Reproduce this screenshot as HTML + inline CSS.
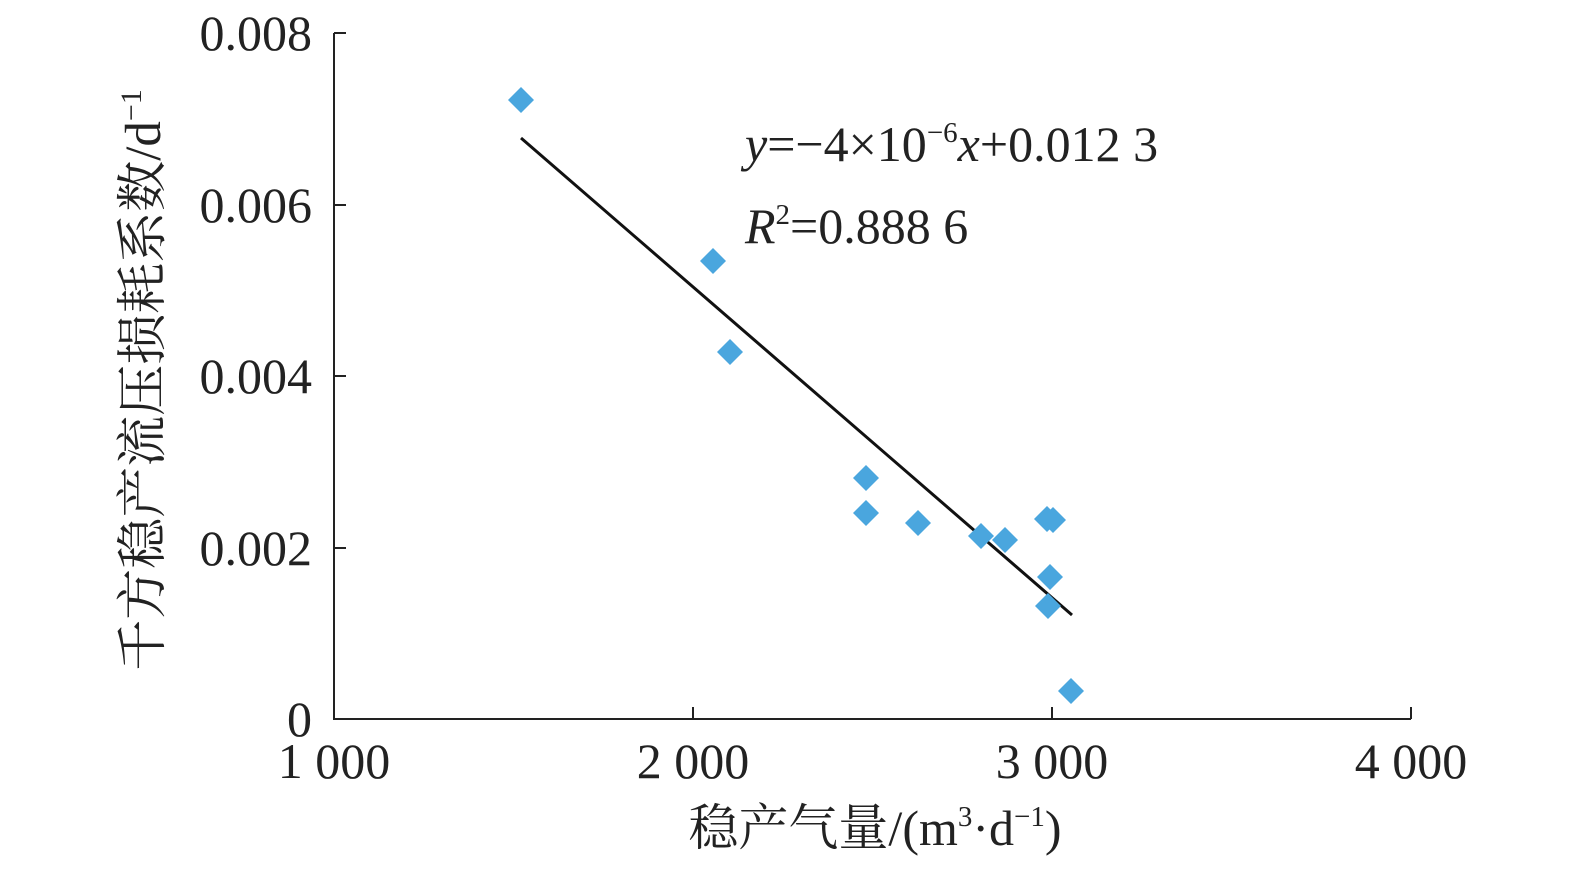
<!DOCTYPE html>
<html><head><meta charset="utf-8"><style>html,body{margin:0;padding:0;background:#fff}</style></head>
<body>
<svg width="1575" height="870" xmlns="http://www.w3.org/2000/svg" font-family="'Liberation Serif','Noto Serif CJK SC',serif" fill="#222">
<g stroke="#222" stroke-width="2">
<line x1="334" y1="33" x2="334" y2="720"/>
<line x1="333" y1="719" x2="1411" y2="719"/>
<line x1="334" y1="33" x2="346" y2="33"/>
<line x1="334" y1="205" x2="346" y2="205"/>
<line x1="334" y1="376" x2="346" y2="376"/>
<line x1="334" y1="548" x2="346" y2="548"/>
<line x1="693" y1="719" x2="693" y2="707"/>
<line x1="1052" y1="719" x2="1052" y2="707"/>
<line x1="1411" y1="719" x2="1411" y2="707"/>
</g>
<g font-size="50" text-anchor="end">
<text x="312" y="50">0.008</text>
<text x="312" y="222">0.006</text>
<text x="312" y="393">0.004</text>
<text x="312" y="565">0.002</text>
<text x="312" y="736">0</text>
</g>
<g font-size="50" text-anchor="middle">
<text x="334" y="778">1 000</text>
<text x="693" y="778">2 000</text>
<text x="1052" y="778">3 000</text>
<text x="1411" y="778">4 000</text>
</g>
<text x="875" y="845" font-size="50" text-anchor="middle">稳产气量/(m<tspan font-size="29" dy="-19">3</tspan><tspan dy="19">·d</tspan><tspan font-size="29" dy="-19">−1</tspan><tspan dy="19">)</tspan></text>
<text transform="translate(160,380) rotate(-90)" font-size="51" text-anchor="middle">千方稳产流压损耗系数/d<tspan font-size="30" dy="-19">−1</tspan></text>
<line x1="521" y1="138" x2="1072" y2="615" stroke="#111" stroke-width="3"/>
<g fill="#4aa6de">
<path d="M521 87l13 13-13 13-13-13z"/>
<path d="M713 248l13 13-13 13-13-13z"/>
<path d="M730 339l13 13-13 13-13-13z"/>
<path d="M866 465l13 13-13 13-13-13z"/>
<path d="M866 500l13 13-13 13-13-13z"/>
<path d="M918 510l13 13-13 13-13-13z"/>
<path d="M981 523l13 13-13 13-13-13z"/>
<path d="M1005 527l13 13-13 13-13-13z"/>
<path d="M1047 506l13 13-13 13-13-13z"/>
<path d="M1053 507l13 13-13 13-13-13z"/>
<path d="M1050 564l13 13-13 13-13-13z"/>
<path d="M1048 593l13 13-13 13-13-13z"/>
<path d="M1071 678l13 13-13 13-13-13z"/>
</g>
<text x="745" y="161" font-size="50"><tspan font-style="italic">y</tspan>=−4×10<tspan font-size="29" dy="-19">−6</tspan><tspan dy="19" font-style="italic">x</tspan>+0.012 3</text>
<text x="745" y="243" font-size="50"><tspan font-style="italic">R</tspan><tspan font-size="29" dy="-19">2</tspan><tspan dy="19">=0.888 6</tspan></text>
</svg>
</body></html>
